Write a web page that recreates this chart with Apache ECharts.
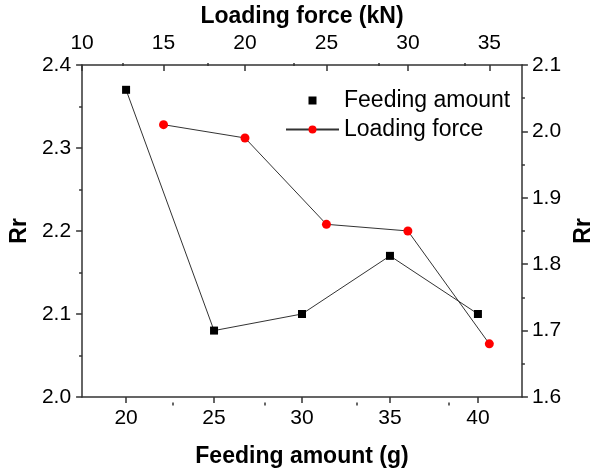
<!DOCTYPE html>
<html>
<head>
<meta charset="utf-8">
<script src="https://cdn.jsdelivr.net/npm/echarts@6/dist/echarts.min.js"></script>
<style>
  html, body { margin: 0; padding: 0; background: #fff; }
  #chart { width: 603px; height: 473px; }
</style>
</head>
<body>
<div id="chart"></div>
<script>
// Feeding amount series (bottom / left axes)
const feedAmount = [20, 25, 30, 35, 40];
const feedRr = [2.37, 2.08, 2.10, 2.17, 2.10];

// Loading force series (top / right axes)
const loadForce = [15, 20, 25, 30, 35];
const loadRr = [2.01, 1.99, 1.86, 1.85, 1.68];

// Tick positions
const feedMajorTicks = [20, 25, 30, 35, 40];
const feedMinorTicks = [22.5, 27.5, 32.5, 37.5];
const loadMajorTicks = [10, 15, 20, 25, 30, 35];
const loadMinorTicks = [12.5, 17.5, 22.5, 27.5, 32.5];

const FONT = 'Liberation Sans, Arial, sans-serif';
const AXIS_COLOR = '#333';
const gridRect = { left: 80, right: 61.5, top: 63, bottom: 70.5 };

const tickLabel = { fontFamily: FONT, fontSize: 21, color: '#000' };
const nameStyle = { fontFamily: FONT, fontSize: 23, fontWeight: 'bold', color: '#000' };

const chart = echarts.init(document.getElementById('chart'), null, { renderer: 'canvas' });

chart.setOption({
  backgroundColor: '#fff',
  animation: false,
  grid: [
    Object.assign({ show: false }, gridRect),
    Object.assign({ show: false }, gridRect)
  ],
  legend: {
    orient: 'vertical',
    left: 280,
    top: 84,
    itemWidth: 53,
    itemHeight: 10,
    itemGap: 6,
    textStyle: { fontFamily: FONT, fontSize: 23, color: '#000' },
    data: [
      { name: 'Feeding amount', lineStyle: { opacity: 0 } },
      { name: 'Loading force' }
    ]
  },
  xAxis: [
    {
      gridIndex: 0, type: 'value', position: 'bottom',
      min: 17.5, max: 42.5,
      name: 'Feeding amount (g)', nameLocation: 'middle', nameGap: 48,
      nameTextStyle: nameStyle,
      axisLine: { show: true, lineStyle: { color: AXIS_COLOR, width: 1.5 } },
      axisTick: { show: true, customValues: feedMajorTicks, length: 6, lineStyle: { color: AXIS_COLOR, width: 1.5 } },
      axisLabel: Object.assign({ customValues: feedMajorTicks, margin: 11 }, tickLabel),
      splitLine: { show: false }
    },
    {
      gridIndex: 0, type: 'value', position: 'top',
      min: 10, max: 37,
      name: 'Loading force (kN)', nameLocation: 'middle', nameGap: 36,
      nameTextStyle: nameStyle,
      axisLine: { show: true, lineStyle: { color: AXIS_COLOR, width: 1.5 } },
      axisTick: { show: true, inside: true, customValues: loadMajorTicks, length: 6, lineStyle: { color: AXIS_COLOR, width: 1.5 } },
      axisLabel: Object.assign({ customValues: loadMajorTicks, margin: 11 }, tickLabel),
      splitLine: { show: false }
    },
    {
      gridIndex: 1, type: 'value', position: 'bottom',
      min: 17.5, max: 42.5,
      axisLine: { show: false },
      axisTick: { show: true, customValues: feedMinorTicks, length: 3, lineStyle: { color: AXIS_COLOR, width: 1.5 } },
      axisLabel: { show: false },
      splitLine: { show: false }
    },
    {
      gridIndex: 1, type: 'value', position: 'top',
      min: 10, max: 37,
      axisLine: { show: false },
      axisTick: { show: true, inside: true, customValues: loadMinorTicks, length: 3, lineStyle: { color: AXIS_COLOR, width: 1.5 } },
      axisLabel: { show: false },
      splitLine: { show: false }
    }
  ],
  yAxis: [
    {
      gridIndex: 0, type: 'value', position: 'left',
      min: 2.0, max: 2.4, interval: 0.1,
      name: 'Rr', nameLocation: 'middle', nameGap: 45, nameRotate: 90,
      nameTextStyle: nameStyle,
      axisLine: { show: true, lineStyle: { color: AXIS_COLOR, width: 1.5 } },
      axisTick: { show: true, length: 6, lineStyle: { color: AXIS_COLOR, width: 1.5 } },
      minorTick: { show: true, splitNumber: 2, length: 3, lineStyle: { color: AXIS_COLOR, width: 1.5 } },
      axisLabel: Object.assign({ margin: 11, formatter: v => v.toFixed(1) }, tickLabel),
      splitLine: { show: false }
    },
    {
      gridIndex: 0, type: 'value', position: 'right',
      min: 1.6, max: 2.1, interval: 0.1,
      name: 'Rr', nameLocation: 'middle', nameGap: 47, nameRotate: 90,
      nameTextStyle: nameStyle,
      axisLine: { show: true, lineStyle: { color: AXIS_COLOR, width: 1.5 } },
      axisTick: { show: true, length: 6, lineStyle: { color: AXIS_COLOR, width: 1.5 } },
      minorTick: { show: true, splitNumber: 2, length: 3, lineStyle: { color: AXIS_COLOR, width: 1.5 } },
      axisLabel: Object.assign({ margin: 10, formatter: v => v.toFixed(1) }, tickLabel),
      splitLine: { show: false }
    },
    {
      gridIndex: 1, type: 'value', show: false, min: 0, max: 1
    }
  ],
  series: [
    {
      name: 'Feeding amount',
      type: 'line',
      xAxisIndex: 0, yAxisIndex: 0,
      data: feedAmount.map((x, i) => [x, feedRr[i]]),
      symbol: 'rect', symbolSize: 8,
      itemStyle: { color: '#000' },
      lineStyle: { color: '#333', width: 1 },
      z: 3
    },
    {
      name: 'Loading force',
      type: 'line',
      xAxisIndex: 1, yAxisIndex: 1,
      data: loadForce.map((x, i) => [x, loadRr[i]]),
      symbol: 'circle', symbolSize: 9,
      itemStyle: { color: '#ff0000' },
      lineStyle: { color: '#333', width: 1 },
      z: 3
    }
  ]
});
</script>
</body>
</html>
